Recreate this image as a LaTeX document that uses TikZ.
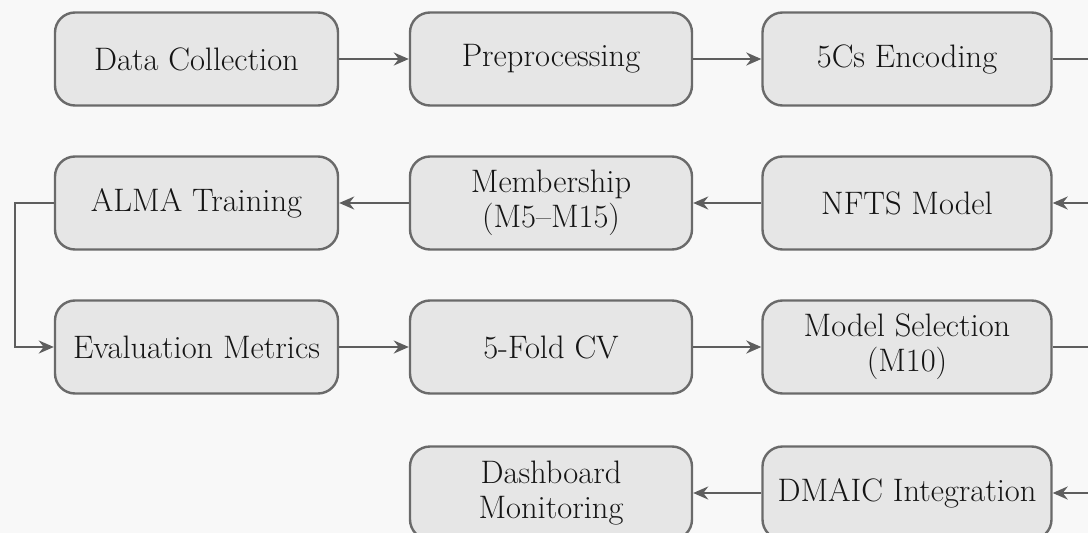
\documentclass[tikz,border=0pt]{standalone}
\usetikzlibrary{arrows.meta}
\definecolor{bgc}{HTML}{F8F8F8}
\definecolor{boxfill}{HTML}{E6E6E6}
\definecolor{boxline}{HTML}{6A6A6A}
\definecolor{arrc}{HTML}{5E5E5E}
\definecolor{txt}{HTML}{151515}
\begin{document}
\begin{tikzpicture}[x=1pt,y=-1pt,
  stage/.style={draw=boxline, fill=boxfill, line width=2.4pt, rounded corners=20pt,
    minimum height=93pt, align=center, inner sep=2pt, text=txt,
    font=\fontsize{32.5}{35}\selectfont},
  flow/.style={draw=arrc, line width=2.2pt, -{Stealth[length=15pt,width=13pt]}},
  plain/.style={draw=arrc, line width=2.2pt}]
\fill[bgc] (0,0) rectangle (1088,533);
\useasboundingbox (0,0) rectangle (1088,533);
\clip (0,0) rectangle (1088,533);
% row 1
\node[stage, minimum width=283pt] (dc) at (196.5,59) {Data Collection};
\node[stage, minimum width=282pt] (pre) at (551,59) {Preprocessing};
\node[stage, minimum width=289pt] (enc) at (907,59) {5Cs Encoding};
\coordinate (r1) at (1100,59);
% row 2
\node[stage, minimum width=283pt] (alma) at (196.5,203) {ALMA Training};
\node[stage, minimum width=282pt] (mem) at (551,203) {Membership\\(M5--M15)};
\node[stage, minimum width=289pt] (nfts) at (907,203) {NFTS Model};
\coordinate (r2) at (1100,203);
% row 3
\node[stage, minimum width=283pt] (eval) at (196.5,347) {Evaluation Metrics};
\node[stage, minimum width=282pt] (cv) at (551,347) {5-Fold CV};
\node[stage, minimum width=289pt] (sel) at (907,347) {Model Selection\\(M10)};
\coordinate (r3) at (1100,347);
% row 4
\node[stage, minimum width=282pt] (dash) at (551,493) {Dashboard\\Monitoring};
\node[stage, minimum width=289pt] (dmaic) at (907,493) {DMAIC Integration};
\coordinate (r4) at (1100,493);
\coordinate (lft) at (15,0);
% connectors
\draw[flow] (dc) -- (pre);
\draw[flow] (pre) -- (enc);
\draw[plain] (enc.east) -- (r1);
\draw[flow] (r2) -- (nfts.east);
\draw[flow] (nfts) -- (mem);
\draw[flow] (mem) -- (alma);
\draw[flow] (alma.west) -- (lft |- alma.west) -- (lft |- eval.west) -- (eval.west);
\draw[flow] (eval) -- (cv);
\draw[flow] (cv) -- (sel);
\draw[plain] (sel.east) -- (r3);
\draw[flow] (r4) -- (dmaic.east);
\draw[flow] (dmaic) -- (dash);
\end{tikzpicture}
\end{document}
